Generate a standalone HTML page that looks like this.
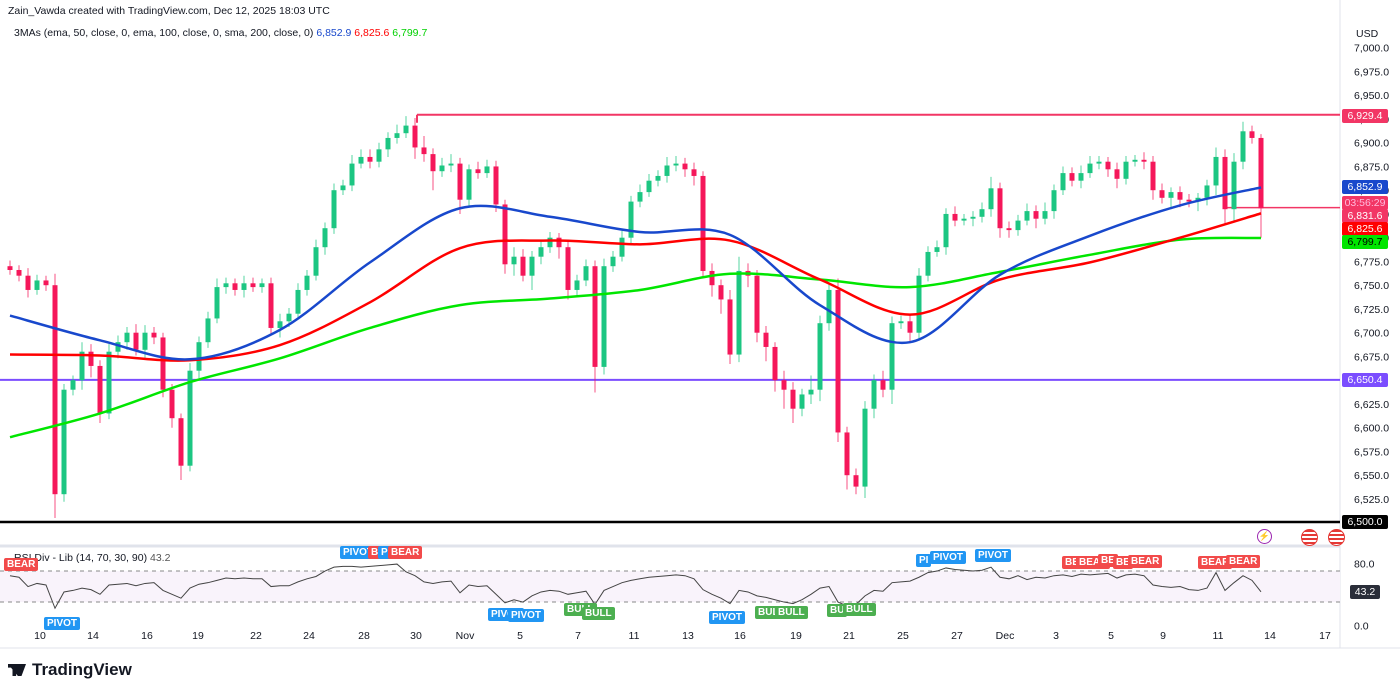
<!DOCTYPE html>
<html><head><meta charset="utf-8">
<style>
body{margin:0;width:1400px;height:693px;background:#fff;font-family:"Liberation Sans",sans-serif;overflow:hidden;position:relative}
.t{position:absolute;font-size:11px;color:#131722;white-space:nowrap}
.lb{position:absolute;font-size:10px;color:#fff;padding:1px 3px;border-radius:2px;white-space:nowrap;font-weight:bold}
.pl{position:absolute;left:1342px;width:46px;height:14px;font-size:10.5px;line-height:14px;text-align:center;color:#fff;border-radius:2px}
</style></head><body>
<div class="t" style="left:8px;top:5px;font-size:10.5px">Zain_Vawda created with TradingView.com, Dec 12, 2025 18:03 UTC</div>
<div class="t" style="left:14px;top:27px;font-size:10.5px">3MAs (ema, 50, close, 0, ema, 100, close, 0, sma, 200, close, 0) <span style="color:#1848cc">6,852.9</span> <span style="color:#f00">6,825.6</span> <span style="color:#00d000">6,799.7</span></div>
<div class="t" style="left:1356px;top:28px;font-size:10.5px">USD</div>
<div class="t" style="left:14px;top:552px;font-size:10.5px">RSI Div - Lib (14, 70, 30, 90) <span style="color:#555">43.2</span></div>
<svg id="c" width="1400" height="693" style="position:absolute;left:0;top:0"></svg>
<div style="position:absolute;left:8px;top:660px;font-size:17px;font-weight:bold;color:#131722"><span style="display:inline-block;width:18px;height:12px;background:#131722;margin-right:6px;vertical-align:-1px;clip-path:polygon(0 0,45% 0,45% 100%,25% 100%,25% 30%,0 30%,0 0,55% 0,100% 0,75% 100%,55% 100%)"></span>TradingView</div>
<script>
const closes=[6766,6760,6745,6755,6750,6530,6640,6650,6680,6665,6615,6680,6690,6700,6682,6700,6695,6640,6610,6560,6660,6690,6715,6748,6752,6745,6752,6748,6752,6705,6712,6720,6745,6760,6790,6810,6850,6855,6878,6885,6880,6893,6905,6910,6918,6895,6888,6870,6876,6878,6840,6872,6868,6875,6835,6772,6780,6760,6780,6790,6800,6790,6745,6755,6770,6664,6770,6780,6800,6838,6848,6860,6865,6876,6878,6872,6865,6765,6750,6735,6677,6765,6760,6700,6685,6650,6640,6620,6635,6640,6710,6745,6595,6550,6538,6620,6650,6640,6710,6712,6700,6760,6785,6790,6825,6818,6820,6822,6830,6852,6810,6808,6818,6828,6820,6828,6850,6868,6860,6868,6878,6880,6872,6862,6880,6882,6880,6850,6842,6848,6840,6838,6842,6855,6885,6830,6880,6912,6905,6831];
const wickUp=[6,5,8,6,5,12,6,5,10,8,6,8,7,6,9,8,6,5,6,5,8,6,7,9,6,5,8,6,5,6,8,6,7,6,8,6,7,6,9,8,8,7,6,9,10,8,12,6,8,10,6,5,8,7,6,5,10,8,6,8,6,5,8,6,7,6,8,6,7,6,8,7,6,9,8,6,7,5,8,6,10,15,8,6,7,5,10,8,6,15,8,8,12,6,7,8,6,10,7,6,8,8,6,7,6,8,5,6,7,12,6,7,6,8,6,9,6,7,6,8,8,6,5,7,6,5,8,6,7,5,6,6,5,6,10,8,9,10,6,4];
const wickDn=[5,6,8,5,6,25,8,6,10,12,10,6,7,8,6,9,7,8,10,15,6,8,6,5,7,6,8,5,6,8,10,6,5,6,5,8,6,5,6,5,7,6,8,6,5,12,8,20,6,7,15,8,6,5,8,10,12,6,15,8,6,12,10,8,6,27,8,6,5,8,6,5,6,7,6,8,10,8,12,15,10,8,12,10,15,12,20,15,8,10,12,8,10,15,8,12,10,8,15,6,10,8,6,5,8,6,5,8,6,8,10,8,6,5,10,6,8,5,6,8,5,6,8,10,6,5,8,10,6,12,8,6,10,8,10,15,12,8,6,31];
const maIdx=[0,10,20,30,40,50,60,70,80,90,100,110,120,130,139];
const ema50=[6718,6692,6672,6703,6774,6831,6822,6806,6803,6729,6690,6761,6802,6834,6852.9];
const ema100=[6677,6676,6671,6687,6732,6789,6797,6793,6797,6756,6719,6756,6774,6800,6825.6];
const sma200=[6590,6615,6648,6673,6705,6729,6736,6745,6762,6756,6748,6764,6782,6798,6799.7];
const rsi=[64,62,50,54,52,22,43,45,48,46,40,52,53,54,51,54,55,45,40,35,48,53,55,58,61,60,61,60,60,50,51,51,56,60,63,70,75,76,76,75,76,77,78,79,69,64,56,54,56,57,42,52,50,51,40,29,33,30,38,43,45,44,40,42,44,27,45,50,55,58,60,62,63,64,65,64,60,46,40,35,28,45,43,38,36,33,30,28,33,40,48,50,30,25,27,38,45,44,55,56,57,62,68,70,74,72,71,70,71,75,62,60,64,59,62,61,64,65,63,66,65,66,67,61,65,66,64,52,50,49,50,46,45,48,68,45,55,64,58,43.2];
const priceTicks=[7000,6975,6950,6925,6900,6875,6850,6825,6800,6775,6750,6725,6700,6675,6625,6600,6575,6550,6525];
const rsiTicks=[80,0];
const dateLabels=["10","14","16","19","22","24","28","30","Nov","5","7","11","13","16","19","21","25","27","Dec","3","5","9","11","14","17"];
const dateX=[40,93,147,198,256,309,364,416,465,520,578,634,688,740,796,849,903,957,1005,1056,1111,1163,1218,1270,1325];

const S=document.getElementById('c');const NS='http://www.w3.org/2000/svg';
function el(t,a,p){const e=document.createElementNS(NS,t);for(const k in a)e.setAttribute(k,a[k]);(p||S).appendChild(e);return e;}
const X=i=>10+9*i;
const Y=p=>142.7+(6900-p)*0.95;
const RY=r=>625.3-0.775*r;
let e;
e=el('line',{x1:1340,y1:0,x2:1340,y2:648,stroke:'#e0e3eb'});

e=el('line',{x1:0,y1:546,x2:1340,y2:546,stroke:'#e0e3eb',"stroke-width":3});

e=el('line',{x1:0,y1:648,x2:1400,y2:648,stroke:'#e0e3eb'});

e=el('rect',{x:0,y:RY(70),width:1340,height:RY(30)-RY(70),fill:'#f9f3fb'});

[70,30].forEach(v=>{const l=el('line',{x1:0,x2:1340,y1:RY(v),y2:RY(v),stroke:'#888',"stroke-dasharray":'4 4'});

});
priceTicks.forEach(p=>{const t=el('text',{x:1354,y:Y(p)+4,"font-size":10.5,fill:'#131722'});t.textContent=p.toLocaleString('en-US',{minimumFractionDigits:1});

});
rsiTicks.forEach(r=>{const t=el('text',{x:1354,y:RY(r)+4,"font-size":10.5,fill:'#131722'});t.textContent=r.toFixed(1);

});
dateLabels.forEach((d,i)=>{const t=el('text',{x:dateX[i],y:639,"font-size":10.5,fill:'#131722',"text-anchor":'middle'});t.textContent=d;

});
e=el('line',{x1:417,x2:1340,y1:Y(6929.4),y2:Y(6929.4),stroke:'#f23665',"stroke-width":2});

e=el('line',{x1:417,x2:417,y1:Y(6929.4),y2:Y(6929.4)+8,stroke:'#f23665',"stroke-width":2});

e=el('line',{x1:0,x2:1340,y1:Y(6650.4),y2:Y(6650.4),stroke:'#7b4dff',"stroke-width":2});

e=el('line',{x1:0,x2:1340,y1:522,y2:522,stroke:'#000',"stroke-width":2.5});

e=el('line',{x1:1225,x2:1340,y1:Y(6831.6),y2:Y(6831.6),stroke:'#f23665',"stroke-width":1.5});

let open=6770;
closes.forEach((c,i)=>{const o=i?closes[i-1]:open;const up=c>=o;const col=up?'#1cc682':'#f5175a';
const hi=Math.max(o,c)+wickUp[i],lo=Math.min(o,c)-wickDn[i];
const w=el('line',{x1:X(i),x2:X(i),y1:Y(hi),y2:Y(lo),stroke:col,"stroke-width":1,opacity:0.75});


const b=el('rect',{x:X(i)-2.5,y:Y(Math.max(o,c)),width:5,height:Math.max(1,Math.abs(Y(o)-Y(c))),fill:col});

});
function smooth(vals){const pts=maIdx.map((k,i)=>[X(k),Y(vals[i])]);let d='M'+pts[0][0]+','+pts[0][1];
for(let i=0;i<pts.length-1;i++){const p0=pts[Math.max(0,i-1)],p1=pts[i],p2=pts[i+1],p3=pts[Math.min(pts.length-1,i+2)];
d+=' C'+(p1[0]+(p2[0]-p0[0])/6)+','+(p1[1]+(p2[1]-p0[1])/6)+' '+(p2[0]-(p3[0]-p1[0])/6)+','+(p2[1]-(p3[1]-p1[1])/6)+' '+p2[0]+','+p2[1];}return d;}
[[sma200,'#00e600','sma200-line'],[ema100,'#ff0000','ema100-line'],[ema50,'#1848cc','ema50-line']].forEach(m=>{
const p=el('path',{d:smooth(m[0]),fill:'none',stroke:m[1],"stroke-width":2.5});

});
const rp=el('polyline',{points:rsi.map((r,i)=>X(i)+','+RY(r)).join(' '),fill:'none',stroke:'#444',"stroke-width":1});


</script>
<div class="pl" style="top:109px;background:#f23665">6,929.4</div>
<div class="pl" style="top:180px;background:#1848cc">6,852.9</div>
<div class="pl" style="top:196px;background:#f23665;color:#fbd">03:56:29</div>
<div class="pl" style="top:209px;background:#f23665">6,831.6</div>
<div class="pl" style="top:222px;background:#ff0000">6,825.6</div>
<div class="pl" style="top:235px;background:#00e600;color:#000">6,799.7</div>
<div class="pl" style="top:373px;background:#7b4dff">6,650.4</div>
<div class="pl" style="top:515px;background:#000">6,500.0</div>
<div class="pl" style="top:585px;background:#2a2e39;width:30px;left:1350px">43.2</div>
<div style="position:absolute;left:1257px;top:529px;width:13px;height:13px;border:1.5px solid #9c27b0;border-radius:50%;color:#9c27b0;font-size:9px;text-align:center;line-height:13px">⚡</div>
<div style="position:absolute;left:1301px;top:529px;width:15px;height:15px;border-radius:50%;background:repeating-linear-gradient(#e53935 0 2px,#fff 2px 4px);border:1.5px solid #e53935"></div>
<div style="position:absolute;left:1328px;top:529px;width:15px;height:15px;border-radius:50%;background:repeating-linear-gradient(#e53935 0 2px,#fff 2px 4px);border:1.5px solid #e53935"></div>
<div class="lb" style="left:4px;top:558px;background:#f24a4a">BEAR</div>
<div class="lb" style="left:44px;top:617px;background:#2196f3">PIVOT</div>
<div class="lb" style="left:340px;top:546px;background:#2196f3">PIVOT</div>
<div class="lb" style="left:368px;top:546px;background:#f24a4a">B</div>
<div class="lb" style="left:378px;top:546px;background:#2196f3">P</div>
<div class="lb" style="left:388px;top:546px;background:#f24a4a">BEAR</div>
<div class="lb" style="left:488px;top:608px;background:#2196f3">PIVOT</div>
<div class="lb" style="left:508px;top:609px;background:#2196f3">PIVOT</div>
<div class="lb" style="left:564px;top:603px;background:#4caf50">BULL</div>
<div class="lb" style="left:582px;top:607px;background:#4caf50">BULL</div>
<div class="lb" style="left:709px;top:611px;background:#2196f3">PIVOT</div>
<div class="lb" style="left:755px;top:606px;background:#4caf50">BULL</div>
<div class="lb" style="left:775px;top:606px;background:#4caf50">BULL</div>
<div class="lb" style="left:827px;top:604px;background:#4caf50">BU</div>
<div class="lb" style="left:843px;top:603px;background:#4caf50">BULL</div>
<div class="lb" style="left:916px;top:554px;background:#2196f3">PI</div>
<div class="lb" style="left:930px;top:551px;background:#2196f3">PIVOT</div>
<div class="lb" style="left:975px;top:549px;background:#2196f3">PIVOT</div>
<div class="lb" style="left:1062px;top:556px;background:#f24a4a">BE</div>
<div class="lb" style="left:1076px;top:556px;background:#f24a4a">BEAR</div>
<div class="lb" style="left:1098px;top:554px;background:#f24a4a">BE</div>
<div class="lb" style="left:1113px;top:556px;background:#f24a4a">BE</div>
<div class="lb" style="left:1128px;top:555px;background:#f24a4a">BEAR</div>
<div class="lb" style="left:1198px;top:556px;background:#f24a4a">BEAR</div>
<div class="lb" style="left:1226px;top:555px;background:#f24a4a">BEAR</div>
</body></html>
